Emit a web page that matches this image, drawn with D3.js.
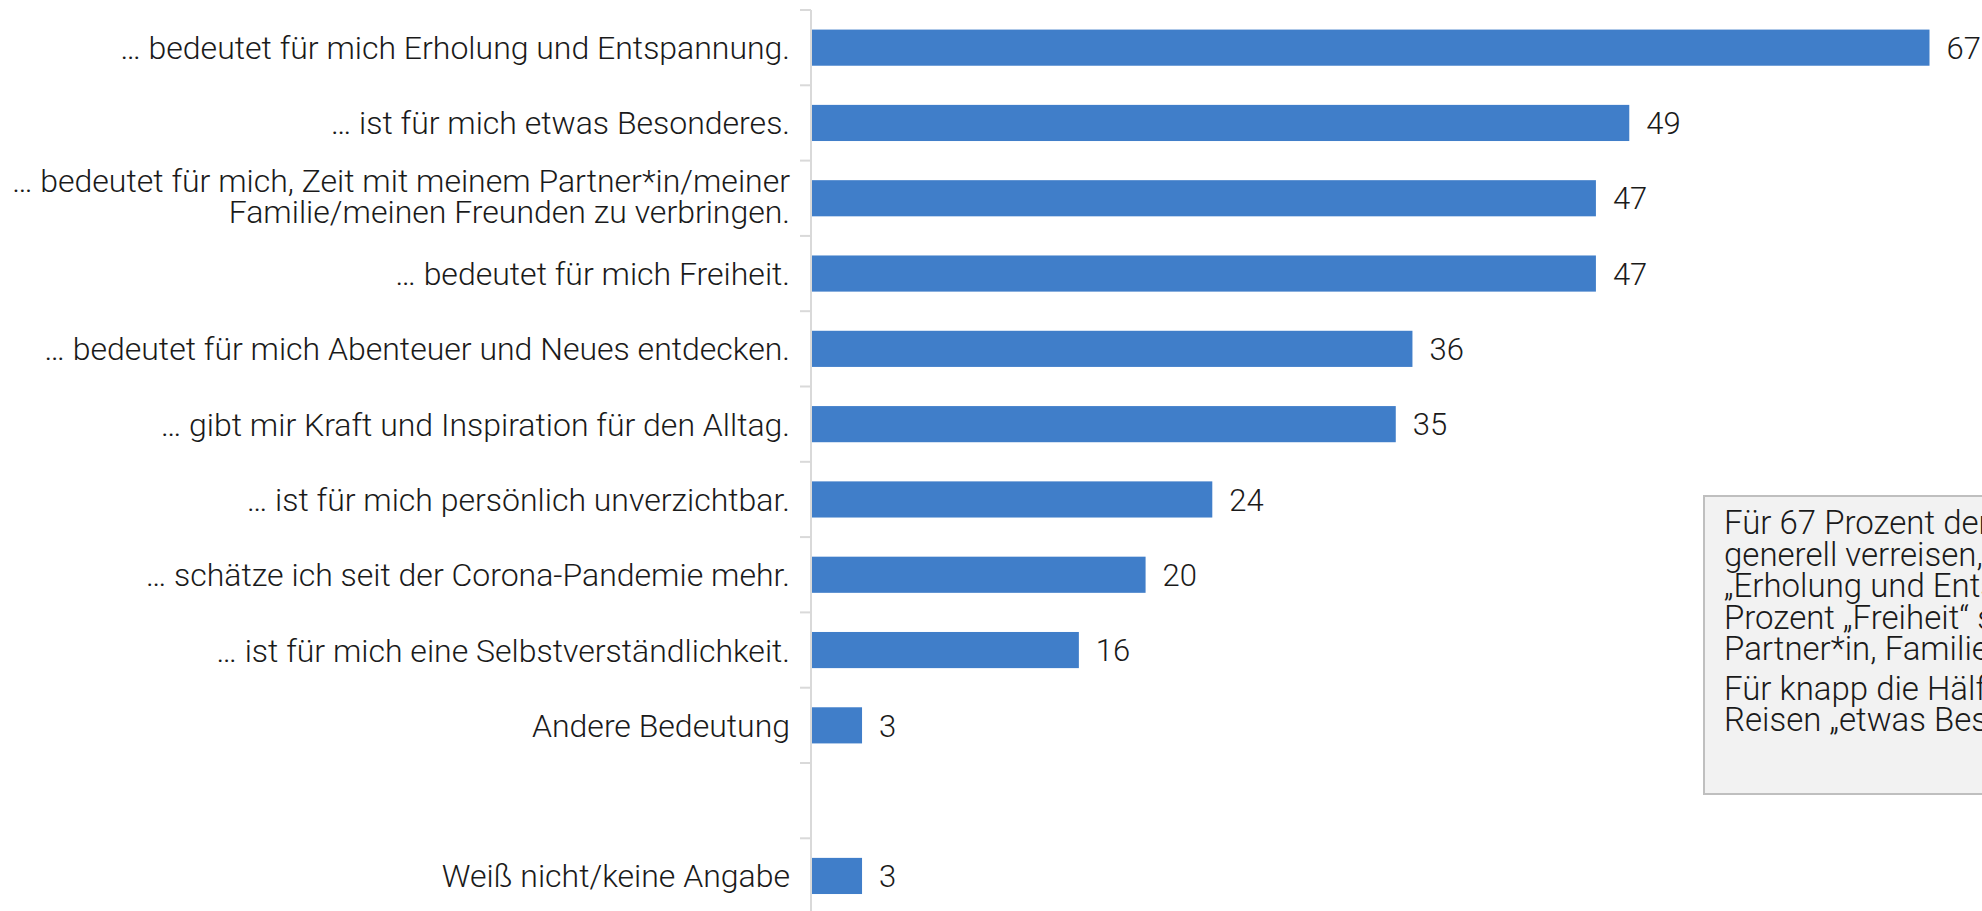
<!DOCTYPE html>
<html>
<head>
<meta charset="utf-8">
<title>Bedeutung von Urlaub</title>
<script src="https://d3js.org/d3.v7.min.js"></script>
<style>
  body { margin: 0; background: #fff; }
  svg text { font-family: "Roboto Light", Roboto, "Noto Sans", sans-serif; font-weight: 300; fill: #1a1a1a; }
</style>
</head>
<body>
<svg class="chart"></svg>
<script>
// data
var categories = [
  ["… bedeutet für mich Erholung und Entspannung."],
  ["… ist für mich etwas Besonderes."],
  ["… bedeutet für mich, Zeit mit meinem Partner*in/meiner", "Familie/meinen Freunden zu verbringen."],
  ["… bedeutet für mich Freiheit."],
  ["… bedeutet für mich Abenteuer und Neues entdecken."],
  ["… gibt mir Kraft und Inspiration für den Alltag."],
  ["… ist für mich persönlich unverzichtbar."],
  ["… schätze ich seit der Corona-Pandemie mehr."],
  ["… ist für mich eine Selbstverständlichkeit."],
  ["Andere Bedeutung"],
  [],
  ["Weiß nicht/keine Angabe"]
];
var values = [67, 49, 47, 47, 36, 35, 24, 20, 16, 3, null, 3];

var noteLines = [
  ["Für 67 Prozent der Deutschen, die",
   "generell verreisen, bedeutet Urlaub",
   "„Erholung und Entspannung“, für 47",
   "Prozent „Freiheit“ sowie Zeit mit",
   "Partner*in, Familie und Freunden."],
  ["Für knapp die Hälfte (49 Prozent) ist",
   "Reisen „etwas Besonderes“."]
];

var width = 1982, height = 911;
var svg = d3.select(".chart").attr("width", width).attr("height", height);

var idx = d3.range(categories.length);
var y = d3.scaleBand().domain(idx).range([10, 10 + 12 * 75.3])
  .paddingInner(0.52).paddingOuter(0.26);
var x = d3.scaleLinear().domain([0, 67]).range([812, 1929.5]);

var gap = (y.step() - y.bandwidth()) / 2;

// axis line + boundary ticks
svg.append("line")
  .attr("x1", 811).attr("x2", 811)
  .attr("y1", 10).attr("y2", height)
  .attr("stroke", "#d9d9d9").attr("stroke-width", 2);

var bounds = idx.map(function(i){ return y(i) - gap; });
svg.selectAll(".tick").data(bounds).enter().append("line")
  .attr("class", "tick")
  .attr("x1", 800).attr("x2", 811)
  .attr("y1", function(d){ return d; }).attr("y2", function(d){ return d; })
  .attr("stroke", "#d9d9d9").attr("stroke-width", 2);

// bars
var rows = idx.filter(function(i){ return values[i] !== null; });
svg.selectAll(".bar").data(rows).enter().append("rect")
  .attr("class", "bar")
  .attr("x", x(0))
  .attr("y", function(i){ return y(i); })
  .attr("width", function(i){ return x(values[i]) - x(0); })
  .attr("height", y.bandwidth())
  .attr("fill", "#407ec9");

// value labels
svg.selectAll(".val").data(rows).enter().append("text")
  .attr("class", "val")
  .attr("x", function(i){ return x(values[i]) + 17; })
  .attr("y", function(i){ return y(i) + y.bandwidth() / 2; })
  .attr("dy", "0.36em")
  .attr("font-size", "31px")
  .text(function(i){ return values[i]; });

// category labels
var lab = svg.selectAll(".lab").data(idx).enter().append("text")
  .attr("class", "lab")
  .attr("text-anchor", "end")
  .attr("font-size", "32px");
lab.each(function(i){
  var lines = categories[i];
  var cy = y(i) + y.bandwidth() / 2;
  var lh = 31;
  var t = d3.select(this);
  lines.forEach(function(s, k){
    t.append("tspan")
      .attr("x", 790)
      .attr("y", cy + (k - (lines.length - 1) / 2) * lh - (lines.length - 1) * 2)
      .attr("dy", "0.36em")
      .text(s);
  });
});

// annotation box
var note = svg.append("g");
note.append("rect")
  .attr("x", 1704).attr("y", 496)
  .attr("width", 400).attr("height", 298)
  .attr("fill", "#f2f2f2").attr("stroke", "#bfbfbf").attr("stroke-width", 2);

var ly = 534;
noteLines.forEach(function(par, p){
  if (p > 0) ly += 8;
  par.forEach(function(s){
    note.append("text")
      .attr("x", 1724).attr("y", ly)
      .attr("font-size", "33px")
      .text(s);
    ly += 31.5;
  });
});
</script>
</body>
</html>
